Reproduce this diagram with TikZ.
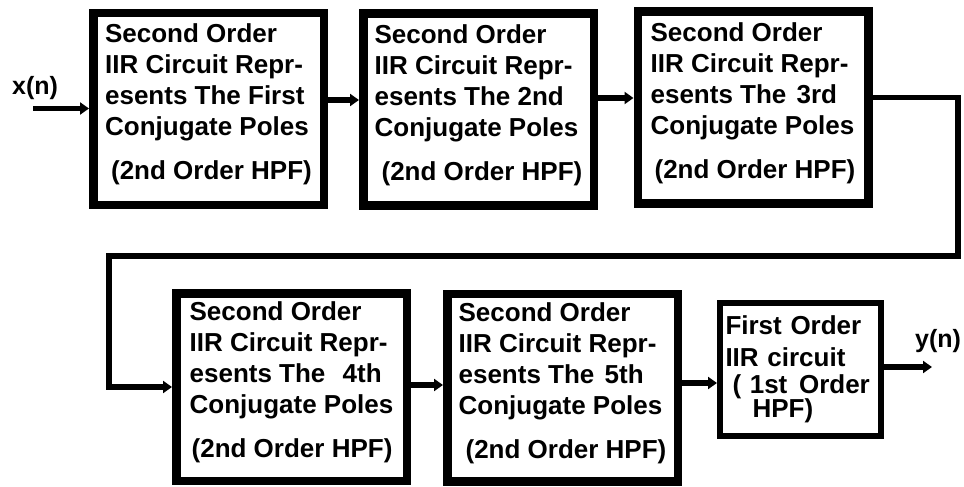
\documentclass[tikz,border=0pt]{standalone}
\usepackage{fontspec}
\setmainfont{Liberation Sans}
\usetikzlibrary{arrows.meta,calc}
% extra depth under the last line lifts each text block a little
\newcommand\lowstrut{\rule[-14.5pt]{0pt}{0pt}}
\begin{document}
\begin{tikzpicture}[x=1pt,y=-1pt,
  every node/.style={font=\bfseries\fontsize{26pt}{31pt}\selectfont},
  stage/.style={draw, line width=8.5pt, fill=white, align=left,
                minimum width=230.5pt, inner sep=0pt},
  toprow/.style={stage, minimum height=191.5pt},
  botrow/.style={stage, minimum height=187.5pt},
  smallstage/.style={draw, line width=6pt, fill=white, align=left,
                text width=150pt, minimum width=161pt, minimum height=133pt,
                inner sep=0pt},
  conn/.style={line width=5.5pt},
  arr/.style={conn, -{Triangle[length=9pt,width=12pt]}},
  sig/.style={anchor=base west, inner sep=0pt,
              font=\bfseries\fontsize{25pt}{30pt}\selectfont}
]
\fill[white] (0,0) rectangle (964,487);
\useasboundingbox (0,0) rectangle (964,487);

% first row of second-order sections
\node[toprow] (b1) at (208.5,109) {Second Order\\IIR Circuit Repr-\\esents The First\\Conjugate Poles\\[13pt]\hspace*{6pt}(2nd Order HPF)\lowstrut};
\node[toprow] (b2) at (478.5,109.5) {Second Order\\IIR Circuit Repr-\\esents The 2nd\\Conjugate Poles\\[13pt]\hspace*{7pt}(2nd Order HPF)\lowstrut};
\node[toprow] (b3) at (753,107.5) {Second Order\\IIR Circuit Repr-\\esents The\hspace{3pt} 3rd\\Conjugate Poles\\[13pt]\hspace*{4pt}(2nd Order HPF)\lowstrut};

% second row
\node[botrow] (b4) at (291.5,387) {Second Order\\IIR Circuit Repr-\\esents The\hspace{10pt} 4th\\Conjugate Poles\\[13pt]\hspace*{2pt}(2nd Order HPF)\lowstrut};
\node[botrow] (b5) at (562.5,387.5) {Second Order\\IIR Circuit Repr-\\esents The\hspace{3pt} 5th\\Conjugate Poles\\[13pt]\hspace*{7pt}(2nd Order HPF)\lowstrut};
\node[smallstage] (b6) at (800.5,369.5) {First Order\\[1.5pt]IIR circuit\\[-4pt]\hspace*{7pt}( 1st\hspace{3pt} Order\\[-7pt]\hspace*{27pt}HPF)};

% input and output signals
\node[sig] (xl) at (12,95) {x(n)};
\node[sig] (yl) at (915,347) {y(n)};

% connectors
\coordinate (xin) at (33,108.5);
\draw[arr] (xin) -- (xin -| b1.west);
\draw[arr] ([yshift=9pt]b1.east) coordinate (t12) -- (t12 -| b2.west);
\draw[arr] ([yshift=11.5pt]b2.east) coordinate (t23) -- (t23 -| b3.west);

\coordinate (r1) at (958,256);
\coordinate (l1) at (109,256);
\draw[arr] ([yshift=10pt]b3.east) -| (r1) -- (l1) |- (b4.west);

\draw[arr] ([yshift=2pt]b4.east) coordinate (t45) -- (t45 -| b5.west);
\draw[arr] ([yshift=4.5pt]b5.east) coordinate (t56) -- (t56 -| b6.west);

\coordinate (yout) at (932,367);
\draw[arr] ([yshift=2.5pt]b6.east) coordinate (t6o) -- (t6o -| yout);
\end{tikzpicture}
\end{document}
